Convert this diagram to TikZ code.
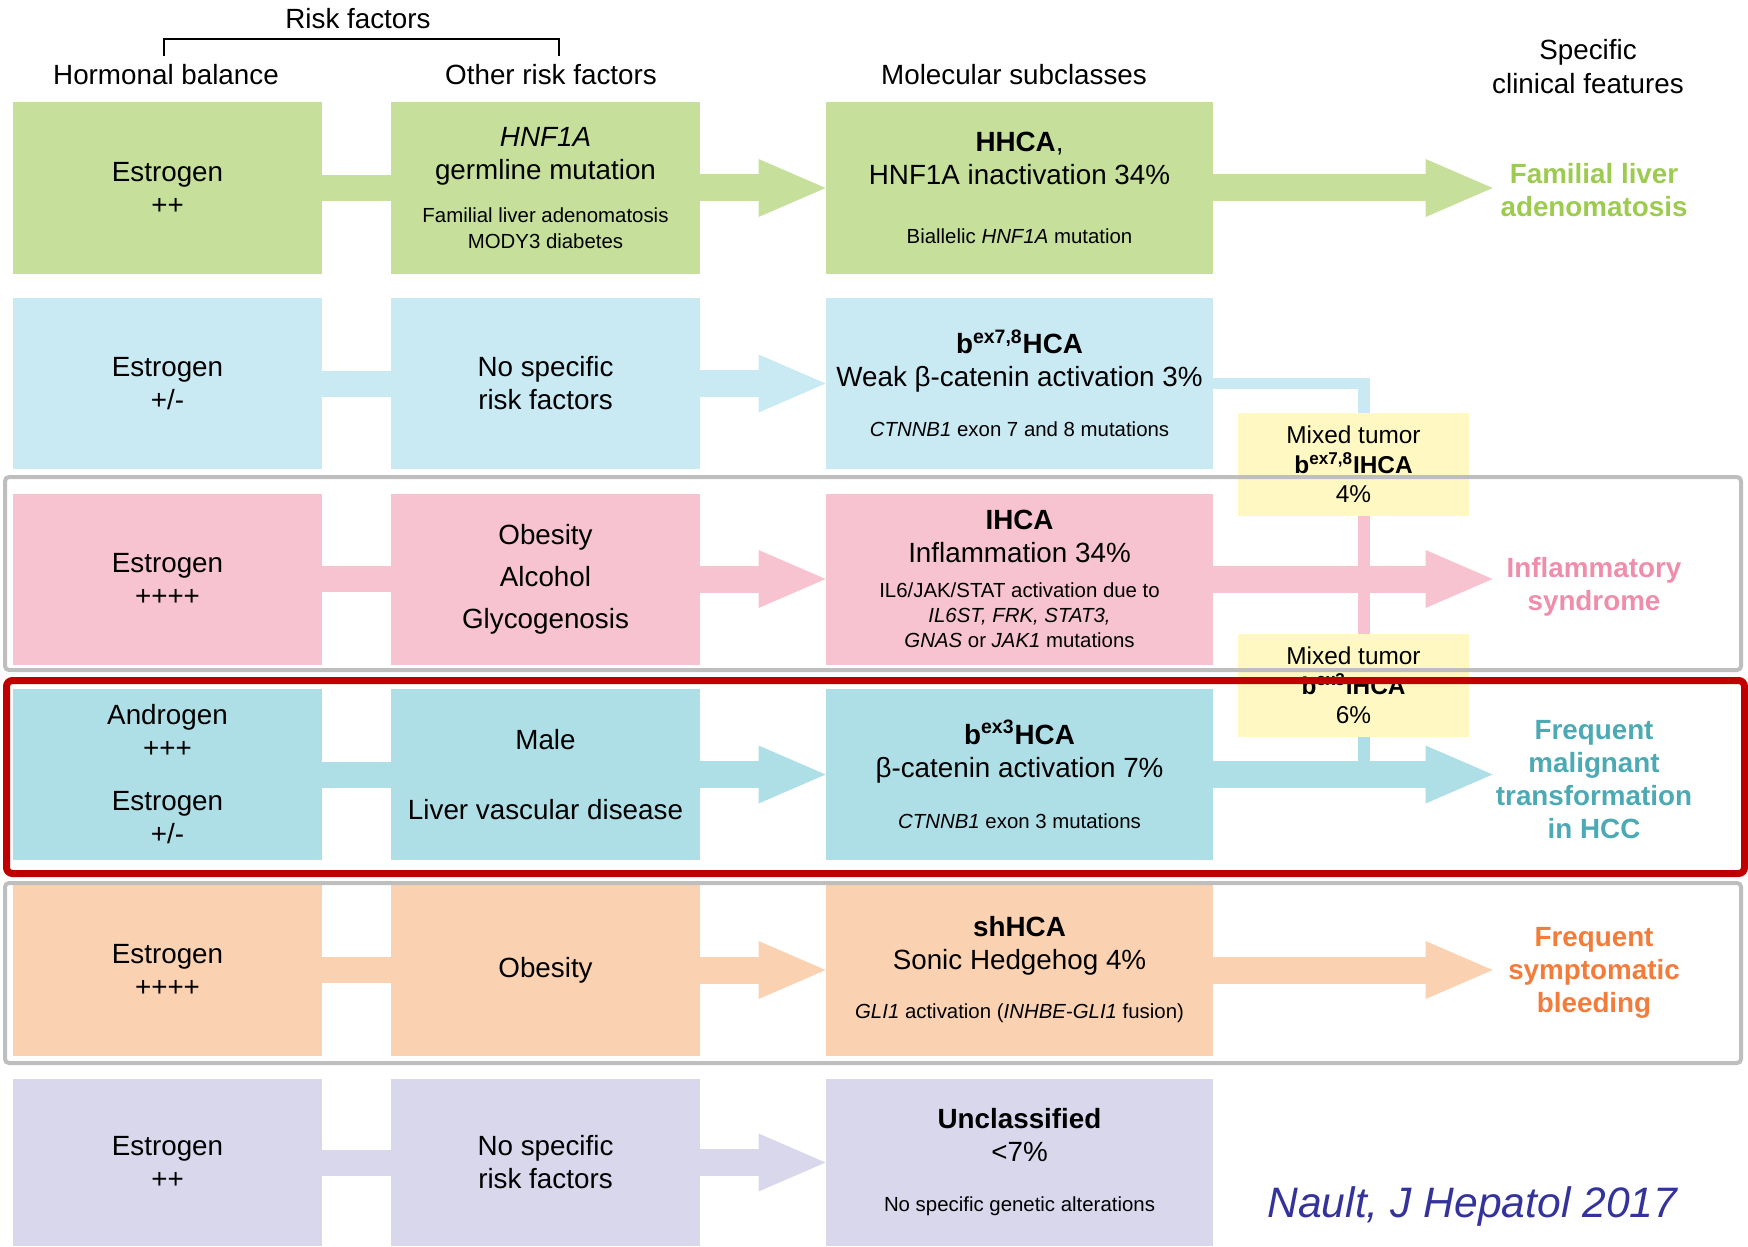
\documentclass[tikz,border=0pt]{standalone}
\usepackage{fontspec}
\setmainfont{Liberation Sans}
\usetikzlibrary{arrows.meta,positioning}

\definecolor{hgreen}{HTML}{C6E09B}
\definecolor{hblue}{HTML}{C9E9F3}
\definecolor{hpink}{HTML}{F7C3D1}
\definecolor{hteal}{HTML}{AFDFE6}
\definecolor{horange}{HTML}{FBD2B1}
\definecolor{hlav}{HTML}{D9D7EC}
\definecolor{hyel}{HTML}{FFF8C2}
\definecolor{tgreen}{HTML}{9CCB4F}
\definecolor{tpink}{HTML}{EF8EAB}
\definecolor{tteal}{HTML}{4BAAB4}
\definecolor{torange}{HTML}{F37C3B}
\definecolor{citeblue}{HTML}{34339B}
\definecolor{frgray}{HTML}{BEBEBE}
\definecolor{frred}{HTML}{C00000}

\newcommand{\mainf}{\fontsize{13.9}{16.5}\selectfont}
\newcommand{\smallf}{\fontsize{10.2}{13}\selectfont}
\newcommand{\mixf}{\fontsize{12.2}{14.75}\selectfont}
\newcommand{\citef}{\fontsize{21.3}{24}\selectfont}
\newcommand{\bex}[1]{b\textsuperscript{ex#1}}

\begin{document}
\begin{tikzpicture}[
  x=0.5pt, y=-0.5pt,
  every node/.style={font=\mainf, inner sep=0pt},
  hcell/.style={rectangle, align=center, minimum width=154.5pt, minimum height=85.5pt},
  ocell/.style={hcell},
  mcell/.style={hcell, minimum width=193.5pt},
  clin/.style={align=center, minimum width=101pt, font=\mainf\bfseries},
  mix/.style={rectangle, fill=hyel, align=center, font=\mixf,
              minimum width=115.5pt, minimum height=51.5pt},
  band/.style={line width=13pt},
  fat/.style={line width=13.5pt, -{Triangle[length=33.5pt, width=29pt, line width=0pt 0 0]}},
  link/.style={line width=5.75pt},
  gframe/.style={draw=frgray, line width=2pt, rounded corners=2pt},
  rframe/.style={draw=frred, line width=3.5pt, rounded corners=3pt}
]
  \useasboundingbox (0,0) rectangle (1748,1246);

  % column headers
  \node (riskf) at (358,19) {Risk factors};
  \node (hbal) at (166,75) {Hormonal balance};
  \node (orf) at (551,75) {Other risk factors};
  \node (molsub) at (1014,75) {Molecular subclasses};
  \node[align=center] (clinf) at (1588,67) {Specific\\[0.5pt]clinical features};
  \coordinate (brk) at (358,39);
  \coordinate (brkend) at (0,56);
  \draw[line width=1pt] ([xshift=-1pt]hbal |- brkend) |- (brk) -| ([xshift=4pt]orf |- brkend);

  % row 1
  \node[hcell, fill=hgreen] (hb1) at (167.5,188) {Estrogen\\++};
  \node[ocell, fill=hgreen] (of1) at (545.5,188) {\textit{HNF1A}\\germline mutation\\[5pt]
        {\smallf Familial liver adenomatosis}\\[-3.5pt]{\smallf MODY3 diabetes}};
  \node[mcell, fill=hgreen] (ms1) at (1019.5,188) {\textbf{HHCA},\\HNF1A inactivation 34\%\\[13pt]
        {\smallf Biallelic \textit{HNF1A} mutation}};
  \node[clin, text=tgreen] (cf1) at (1594,190) {Familial liver\\adenomatosis};

  % row 2
  \node[hcell, fill=hblue] (hb2) at (167.5,383.5) {Estrogen\\+/-};
  \node[ocell, fill=hblue] (of2) at (545.5,383.5) {No specific\\risk factors};
  \node[mcell, fill=hblue] (ms2) at (1019.5,383.5) {\textbf{\bex{7,8}HCA}\\Weak β-catenin activation 3\%\\[8.5pt]
        {\smallf\textit{CTNNB1} exon 7 and 8 mutations}};

  % row 3
  \node[hcell, fill=hpink] (hb3) at (167.5,579) {Estrogen\\++++};
  \node[ocell, fill=hpink] (of3) at (545.5,579) {Obesity\\[4.5pt]Alcohol\\[4.5pt]Glycogenosis};
  \node[mcell, fill=hpink] (ms3) at (1019.5,579) {\textbf{IHCA}\\Inflammation 34\%\\[1pt]
        {\smallf IL6/JAK/STAT activation due to}\\[-4pt]{\smallf\textit{IL6ST, FRK, STAT3,}}\\[-4pt]
        {\smallf\textit{GNAS} or \textit{JAK1} mutations}};
  \node[clin, text=tpink] (cf3) at (1594,587) {Inflammatory\\syndrome};

  % row 4
  \node[hcell, fill=hteal] (hb4) at (167.5,774.5) {Androgen\\+++\\[10pt]Estrogen\\+/-};
  \node[ocell, fill=hteal] (of4) at (545.5,774.5) {Male\\[18.5pt]Liver vascular disease};
  \node[mcell, fill=hteal] (ms4) at (1019.5,774.5) {\textbf{\bex{3}HCA}\\β-catenin activation 7\%\\[9pt]
        {\smallf\textit{CTNNB1} exon 3 mutations}};
  \node[clin, text=tteal] (cf4) at (1594,780) {Frequent\\malignant\\transformation\\in HCC};

  % row 5
  \node[hcell, fill=horange] (hb5) at (167.5,970) {Estrogen\\++++};
  \node[ocell, fill=horange] (of5) at (545.5,970) {Obesity};
  \node[mcell, fill=horange] (ms5) at (1019.5,970) {\textbf{shHCA}\\Sonic Hedgehog 4\%\\[8pt]
        {\smallf\textit{GLI1} activation (\textit{INHBE-GLI1} fusion)}};
  \node[clin, text=torange] (cf5) at (1594,973) {Frequent\\symptomatic\\bleeding};

  % row 6
  \node[hcell, fill=hlav, minimum height=83.5pt] (hb6) at (167.5,1162.5) {Estrogen\\++};
  \node[ocell, fill=hlav, minimum height=83.5pt] (of6) at (545.5,1162.5) {No specific\\risk factors};
  \node[mcell, fill=hlav, minimum height=83.5pt] (ms6) at (1019.5,1162.5) {\textbf{Unclassified}\\<7\%\\[8.5pt]
        {\smallf No specific genetic alterations}};

  % arrows
  \foreach \r/\c in {1/hgreen,2/hblue,3/hpink,4/hteal,5/horange,6/hlav} {
    \draw[band, \c] (hb\r.east) -- (of\r.west);
    \draw[fat, \c] (of\r.east) -- (ms\r.west);
  }
  \foreach \r/\c in {1/hgreen,3/hpink,4/hteal,5/horange}
    \draw[fat, \c] (ms\r.east) -- (ms\r.east -| cf\r.west);

  % mixed tumors
  \node[mix] (mx1) at (1353.5,464.5) {Mixed tumor\\\textbf{\bex{7,8}IHCA}\\4\%};
  \node[mix] (mx2) at (1353.5,685.5) {Mixed tumor\\\textbf{\bex{3}IHCA}\\6\%};
  \coordinate (vline) at (1364,0);
  \draw[link, hblue] (ms2.east) -| (vline |- mx1.north);
  \draw[link, hpink] (vline |- mx1.south) -- (vline |- mx2.north);
  \draw[link, hteal] (vline |- mx2.south) -- (vline |- ms4.east);

  % frames
  \draw[gframe] (5,477) rectangle (1741,670);
  \draw[gframe] (5,883) rectangle (1741,1063);
  \draw[rframe] (6.5,680.5) rectangle (1744.5,873.5);

  \node[font=\citef, text=citeblue] (cite) at (1473,1206) {\textit{Nault, J Hepatol 2017}};
\end{tikzpicture}
\end{document}
